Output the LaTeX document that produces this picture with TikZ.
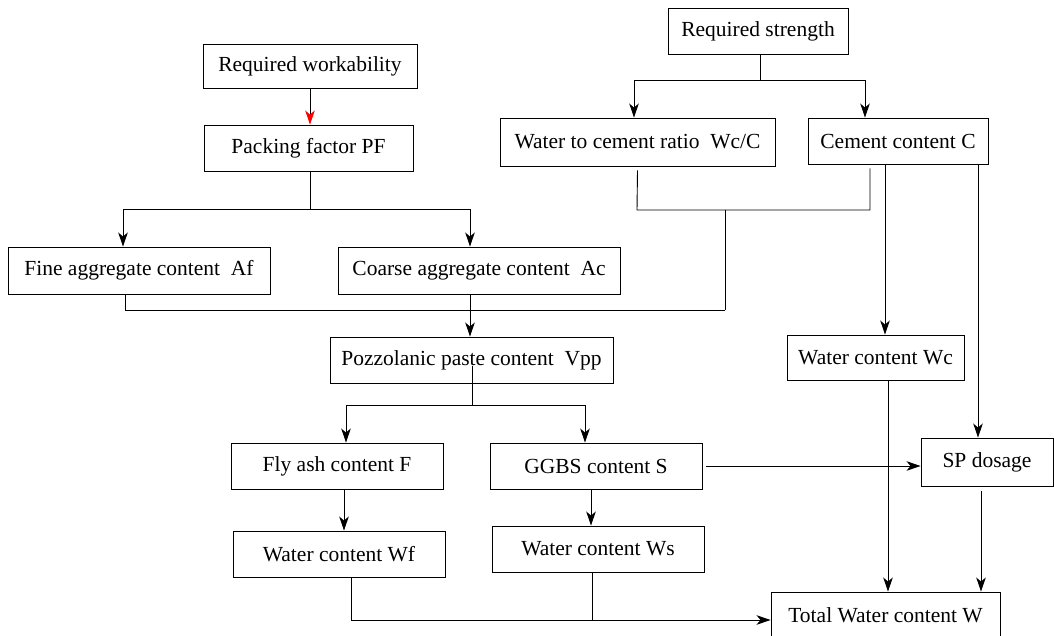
\documentclass[tikz,border=0pt]{standalone}
\usepackage{fontspec}
\setmainfont{Liberation Serif}
\usetikzlibrary{arrows.meta}
\begin{document}
\begin{tikzpicture}[x=1pt,y=-1pt,
  box/.style={draw, line width=0.9pt, inner sep=0pt, font=\fontsize{21.5}{25}\selectfont},
  link/.style={line width=0.9pt},
  arr/.style={link, -{Stealth[length=14pt,width=9.5pt,inset=4pt]}},
  redarr/.style={link, -{Stealth[length=14pt,width=9.5pt,inset=4pt,red]}}]
\useasboundingbox (0,0) rectangle (1054,636);

% boxes
\node[box, minimum width=214, minimum height=44] (rw)  at (310,66)    {Required workability};
\node[box, minimum width=209, minimum height=46] (pf)  at (308.5,148) {Packing factor PF};
\node[box, minimum width=180, minimum height=46] (rs)  at (758,31)    {Required strength};
\node[box, minimum width=275, minimum height=48] (wcc) at (637.5,142) {Water to cement ratio\ \ Wc/C};
\node[box, minimum width=180, minimum height=46] (cc)  at (898,141)   {Cement content C};
\node[box, minimum width=262, minimum height=47] (af)  at (139,270.5) {Fine aggregate content\ \ Af};
\node[box, minimum width=282, minimum height=47] (ac)  at (479,270.5) {Coarse aggregate content\ \ Ac};
\node[box, minimum width=283, minimum height=46] (vpp) at (471.5,360) {Pozzolanic paste content\ \ Vpp};
\node[box, minimum width=177, minimum height=45] (wc)  at (875.5,357.5) {Water content Wc};
\node[box, minimum width=212, minimum height=46] (fa)  at (337,466)   {Fly ash content F};
\node[box, minimum width=212, minimum height=46] (gg)  at (596,466)   {GGBS content S};
\node[box, minimum width=132, minimum height=48] (sp)  at (987,462)   {SP dosage};
\node[box, minimum width=212, minimum height=46] (wf)  at (339,554)   {Water content Wf};
\node[box, minimum width=212, minimum height=46] (ws)  at (598,549)   {Water content Ws};
\node[box, minimum width=229, minimum height=46] (tw)  at (885.5,615) {Total Water content W};

% junction points
\coordinate (j1) at (310,209);
\coordinate (j2) at (760,80);
\coordinate (m1) at (637,210);
\coordinate (m2) at (870,210);
\coordinate (m3) at (725,210);
\coordinate (m4) at (725,310);
\coordinate (m5) at (125,310);
\coordinate (j3) at (472,405);
\coordinate (m6) at (351,620);
\coordinate (m7) at (592,620);

% workability branch
\draw[redarr] (rw.south) -- (rw.south |- pf.north);
\draw[link] (j1 |- pf.south) -- (j1);
\draw[arr] (j1) -| ([xshift=-16pt]af.north);
\draw[arr] (j1) -| ([xshift=-9pt]ac.north);

% strength branch
\draw[link] (j2 |- rs.south) -- (j2);
\draw[arr] (j2) -| ([xshift=-3.5pt]wcc.north);
\draw[arr] (j2) -| ([xshift=-33pt]cc.north);
\draw[link] ([yshift=-4pt]wcc.south) -- (m1) -- (m2) -- ([xshift=-28pt,yshift=-4pt]cc.south);
\draw[link] (m3) -- (m4);

% aggregates to paste content
\draw[link] ([xshift=-14pt]af.south) -- (m5) -- (m4);
\draw[arr] ([xshift=-9pt]ac.south) -- ([xshift=-1.5pt]vpp.north);

% cement content outputs
\draw[arr] ([xshift=-13pt]cc.south) -- ([xshift=9.5pt]wc.north);
\draw[arr] ([xshift=80pt]cc.south) -- ([xshift=-9pt]sp.north);

% paste split
\draw[link] ([xshift=0.5pt,yshift=-6pt]vpp.center) -- (j3);
\draw[arr] (j3) -| ([xshift=9pt]fa.north);
\draw[arr] (j3) -| ([xshift=-11pt]gg.north);

% water demand of each binder
\draw[arr] ([xshift=7pt]fa.south) -- ([xshift=5pt]wf.north);
\draw[arr] ([xshift=-5pt]gg.south) -- ([xshift=-7pt]ws.north);
\draw[arr] ([xshift=4pt]gg.east) -- (gg.east -| sp.west);

% total water
\draw[arr] ([xshift=12.5pt]wc.south) -- ([xshift=2.5pt]tw.north);
\draw[arr] ([xshift=-6pt,yshift=-5pt]sp.south) -- ([xshift=95.5pt]tw.north);
\draw[link] ([xshift=12pt]wf.south) -- (m6);
\draw[link] ([xshift=-6pt]ws.south) -- (m7);
\draw[arr] (m6) -- (m6 -| tw.west);
\end{tikzpicture}
\end{document}
